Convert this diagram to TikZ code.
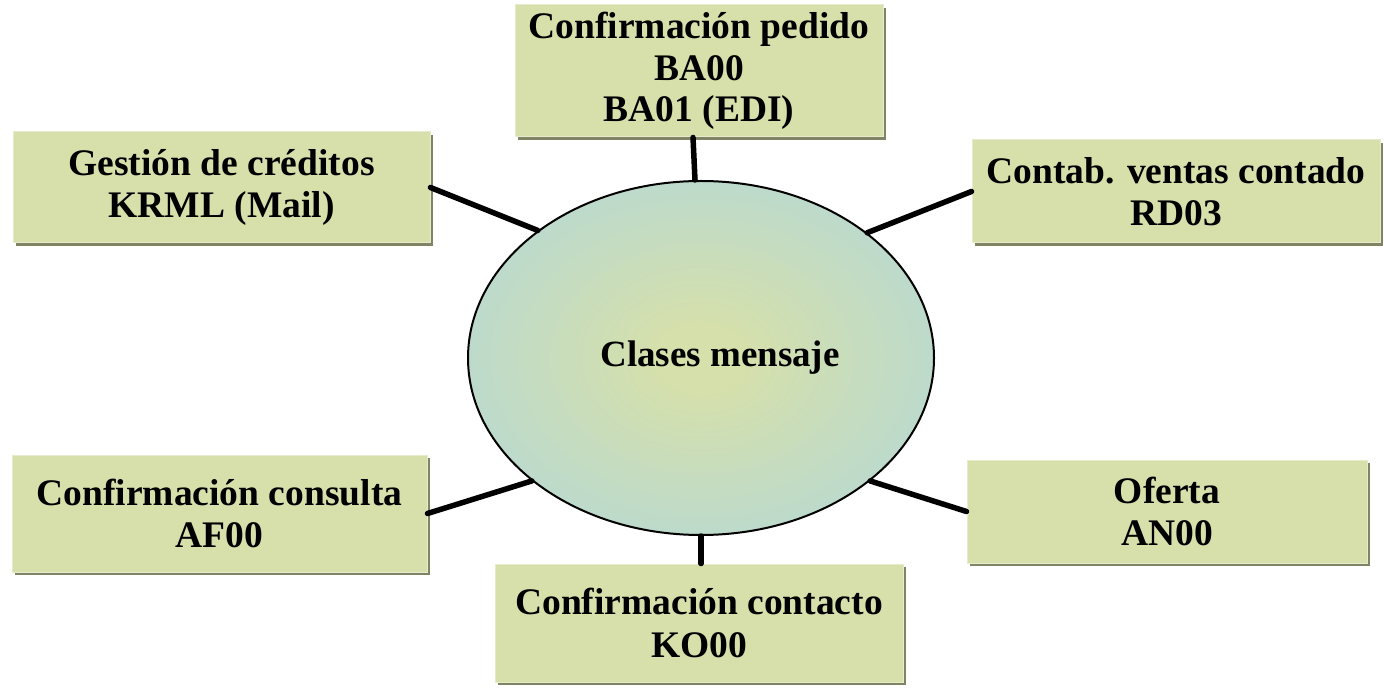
\documentclass[tikz,border=0pt]{standalone}
\usepackage{fontspec}
\setmainfont{Liberation Serif}
\usetikzlibrary{shapes.geometric,shadows}
\definecolor{boxfill}{HTML}{D7DFAB}
\definecolor{boxhl}{HTML}{E6EBCB}
\definecolor{boxshadow}{HTML}{808464}
\definecolor{ellin}{HTML}{D6E0AA}
\definecolor{ellout}{HTML}{B4D8D6}
\pgfdeclareradialshading{ellshade}{\pgfpoint{0bp}{0bp}}{%
  color(0bp)=(ellin); color(4bp)=(ellin); color(32bp)=(ellout); color(50bp)=(ellout)}
\begin{document}
\begin{tikzpicture}[x=1pt,y=-1pt,
  msgbox/.style={rectangle, inner sep=0pt, align=center, fill=boxfill, draw=boxhl, line width=1pt,
    font=\fontsize{37.5}{41.5}\selectfont\bfseries,
    drop shadow={shadow xshift=3pt, shadow yshift=-3pt, fill=boxshadow, opacity=1}},
  conn/.style={line width=5.5pt, line cap=round},
  hub/.style={ellipse, inner sep=0pt, draw=black, line width=2pt, shading=ellshade,
    font=\fontsize{37}{42}\selectfont\bfseries}]
\useasboundingbox (0,0) rectangle (1384,692);
\node[msgbox, minimum width=368pt, minimum height=132pt] (top) at (699,71)
  {Confirmación pedido\\BA00\\BA01 (EDI)};
\node[msgbox, minimum width=417pt, minimum height=111pt] (gest) at (221.5,187.5)
  {Gestión de créditos\\KRML (Mail)};
\node[msgbox, minimum width=408pt, minimum height=103pt] (contab) at (1176,191.5)
  {Contab. ventas contado\\RD03};
\node[msgbox, minimum width=415pt, minimum height=117pt] (consulta) at (219.5,513.5)
  {Confirmación consulta\\AF00};
\node[msgbox, minimum width=400pt, minimum height=103pt] (oferta) at (1167,511.5)
  {Oferta\\AN00};
\node[msgbox, minimum width=408pt, minimum height=118pt] (contacto) at (699,623)
  {Confirmación contacto\\[2pt]KO00};
\node[hub, minimum width=466pt, minimum height=354pt] (ell) at (701,358) {\hspace*{38pt}Clases mensaje};
\draw[conn] ([xshift=-6pt]top.south) -- ([xshift=-6pt]ell.north);
\draw[conn] (gest.east) -- (ell.142.5);
\draw[conn] (contab.west) -- (ell.37);
\draw[conn] (consulta.east) -- (ell.216);
\draw[conn] (oferta.west) -- (ell.-36);
\draw[conn] (ell.south) -- (ell.south |- contacto.north);
\end{tikzpicture}
\end{document}
